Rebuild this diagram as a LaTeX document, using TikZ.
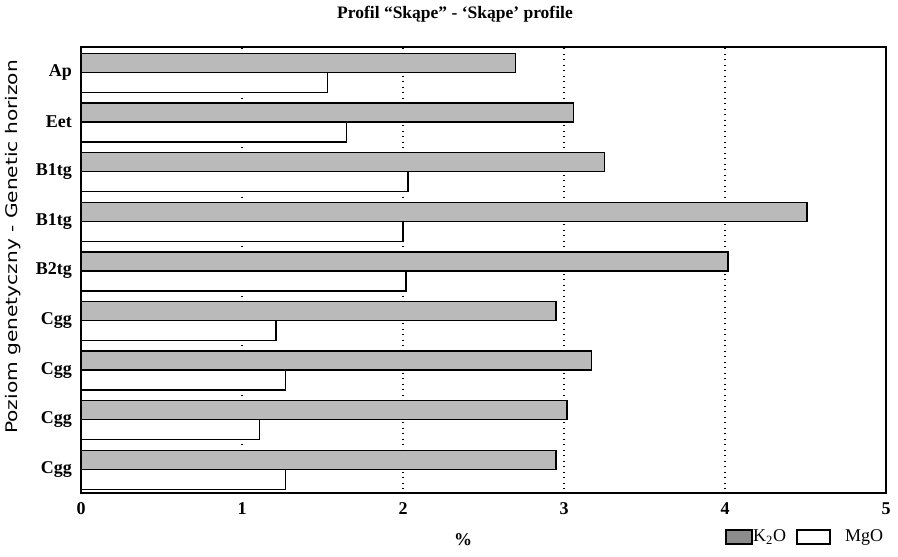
\documentclass[tikz,border=0pt]{standalone}
\usepackage{fontspec}
\setmainfont{Liberation Serif}
\newfontfamily\axisfont{DejaVu Sans}
\usetikzlibrary{positioning}
\tikzstyle{frame} = [draw=black, line width=1.6pt]
\tikzstyle{gridline} = [draw=black, line width=1.3pt, dash pattern=on 1.3pt off 4.2pt]
\tikzstyle{kbar} = [draw=black, line width=1.5pt, fill=black!27]
\tikzstyle{mbar} = [draw=black, line width=1.5pt, fill=white]
\tikzstyle{horizon} = [anchor=east, font=\fontsize{18}{20}\selectfont\bfseries, inner sep=0pt]
\tikzstyle{tick} = [font=\fontsize{18}{20}\selectfont\bfseries, inner sep=0pt]
\tikzstyle{legend} = [anchor=west, font=\fontsize{18}{20}\selectfont, inner sep=0pt]

\begin{document}
\begin{tikzpicture}[x=1pt, y=-1pt]
	\useasboundingbox (0,0) rectangle (898,557);
	\node[font=\fontsize{17.5}{20}\selectfont\bfseries](title) at (455,14){Profil “Skąpe” - ‘Skąpe’ profile};
	\node[rotate=90, font=\axisfont\fontsize{16}{18}\selectfont, inner sep=0pt](ylabel) at (13,247){\scalebox{1.26}[1]{Poziom genetyczny - Genetic horizon}};

	% plot area, x in per cent
	\begin{scope}[shift={(81,0)}, x=161pt]
	\path[gridline] (1,48) -- (1,492);
	\path[gridline] (2,48) -- (2,492);
	\path[gridline] (3,48) -- (3,492);
	\path[gridline] (4,48) -- (4,492);

	\path[kbar] (0,53.5) rectangle (2.70,72.5);
	\path[mbar] (0,72.5) rectangle (1.53,92.5);
	\path[kbar] (0,103.1) rectangle (3.06,122.1);
	\path[mbar] (0,122.1) rectangle (1.65,142.1);
	\path[kbar] (0,152.7) rectangle (3.25,171.7);
	\path[mbar] (0,171.7) rectangle (2.03,191.7);
	\path[kbar] (0,202.3) rectangle (4.51,221.3);
	\path[mbar] (0,221.3) rectangle (2.00,241.3);
	\path[kbar] (0,251.9) rectangle (4.02,270.9);
	\path[mbar] (0,270.9) rectangle (2.02,290.9);
	\path[kbar] (0,301.5) rectangle (2.95,320.5);
	\path[mbar] (0,320.5) rectangle (1.21,340.5);
	\path[kbar] (0,351.1) rectangle (3.17,370.1);
	\path[mbar] (0,370.1) rectangle (1.27,390.1);
	\path[kbar] (0,400.7) rectangle (3.02,419.7);
	\path[mbar] (0,419.7) rectangle (1.11,439.7);
	\path[kbar] (0,450.3) rectangle (2.95,469.3);
	\path[mbar] (0,469.3) rectangle (1.27,489.3);

	\path[frame] (0,47) rectangle (5,493);

	\node[tick](tick0) at (0,509){0};
	\node[tick](tick1) at (1,509){1};
	\node[tick](tick2) at (2,509){2};
	\node[tick](tick3) at (3,509){3};
	\node[tick](tick4) at (4,509){4};
	\node[tick](tick5) at (5,509){5};
	\end{scope}

	\node[horizon](ap)    at (72,72.5){Ap};
	\node[horizon](eet)   at (72,122.1){Eet};
	\node[horizon](bta)   at (72,171.7){B1tg};
	\node[horizon](btb)   at (72,221.3){B1tg};
	\node[horizon](btc)   at (72,270.9){B2tg};
	\node[horizon](cgga)  at (72,320.5){Cgg};
	\node[horizon](cggb)  at (72,370.1){Cgg};
	\node[horizon](cggc)  at (72,419.7){Cgg};
	\node[horizon](cggd)  at (72,469.3){Cgg};

	\node[tick](xlabel) at (463,540){\%};

	% legend
	\path[kbar, fill=black!45, line width=1.2pt] (726,530) rectangle (752,544);
	\node[legend](legk) at (753,537){K\textsubscript{2}O};
	\path[mbar, line width=1.2pt] (797,530) rectangle (830,544);
	\node[legend](legm) at (845,537){MgO};
\end{tikzpicture}
\end{document}
